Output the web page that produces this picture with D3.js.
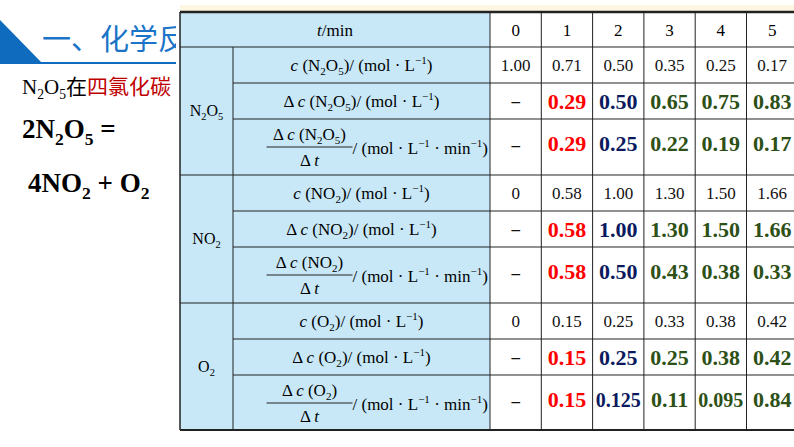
<!DOCTYPE html><html><head><meta charset="utf-8"><script src="https://d3js.org/d3.v7.min.js"></script>
<style>body{margin:0;background:#fff}svg{display:block}</style></head><body><svg id="c" width="794" height="447"></svg>
<script>
const times=["0","1","2","3","4","5"];
const groups=["N2O5","NO2","O2"];
const cN2O5=["1.00","0.71","0.50","0.35","0.25","0.17"];
const dN2O5=["–","0.29","0.50","0.65","0.75","0.83"];
const vN2O5=["–","0.29","0.25","0.22","0.19","0.17"];
const cNO2=["0","0.58","1.00","1.30","1.50","1.66"];
const dNO2=["–","0.58","1.00","1.30","1.50","1.66"];
const vNO2=["–","0.58","0.50","0.43","0.38","0.33"];
const cO2=["0","0.15","0.25","0.33","0.38","0.42"];
const dO2=["–","0.15","0.25","0.25","0.38","0.42"];
const vO2=["–","0.15","0.125","0.11","0.095","0.84"];
const rows=[[cN2O5,"c"],[dN2O5,"d"],[vN2O5,"v"],[cNO2,"c"],[dNO2,"d"],[vNO2,"v"],[cO2,"c"],[dO2,"d"],[vO2,"v"]];
const svg=d3.select("#c");
const serif="'Liberation Serif','DejaVu Serif',serif";
function rich(t,segs,fs){let cur=0;segs.forEach(s=>{const lv=s[1]||0;const off=lv==1?fs*0.25:lv==-1?-fs*0.4:0;
 const sp=t.append("tspan").attr("dy",off-cur).text(s[0]);cur=off;if(lv)sp.attr("font-size",fs*0.65);
 if(s[2])Object.entries(s[2]).forEach(([k,v])=>sp.attr(k,v));});return t;}
svg.append("path").attr("d","M0,20 L0,63 L42,63 Z").attr("fill","#0e6bbd");
svg.append("rect").attr("x",0).attr("y",62).attr("width",200).attr("height",2).attr("fill","#0e6bbd");
svg.append("text").attr("x",42).attr("y",50).attr("font-family","Noto Sans CJK SC").attr("font-size",29).attr("fill","#1a74c8").text("一、化学反应");
const cjk={"font-family":"Noto Sans CJK SC"};
rich(svg.append("text").attr("x",22).attr("y",94).attr("font-family",serif).attr("font-size",21),
 [["N"],["2",1],["O"],["5",1],["在",0,cjk],["四氯化碳",0,{"font-family":"Noto Sans CJK SC",fill:"#c00000"}]],21);
rich(svg.append("text").attr("x",22).attr("y",138).attr("font-family",serif).attr("font-weight","bold").attr("font-size",27),[["2N"],["2",1],["O"],["5",1],[" ="]],27);
rich(svg.append("text").attr("x",28).attr("y",192).attr("font-family",serif).attr("font-weight","bold").attr("font-size",27),[["4NO"],["2",1],[" + O"],["2",1]],27);
const x0=180,xg=233,xl=490,colW=51.3;
const x=d3.scaleBand().domain(times).range([xl,xl+6*colW]);
const rowH=[36,36,56,36,36,56,36,36,55];
const ys=[47];rowH.forEach(h=>ys.push(ys[ys.length-1]+h));
const yTop=12;
svg.append("rect").attr("x",x0-4).attr("y",5).attr("width",640).attr("height",440).attr("fill","#fff");
svg.append("rect").attr("x",x0).attr("y",5).attr("width",614).attr("height",6).attr("fill","#fdf6e0");
svg.append("rect").attr("x",x0).attr("y",yTop).attr("width",xl-x0).attr("height",ys[9]-yTop).attr("fill","#c8e8f8");
const L=(a,b,c,d,w)=>svg.append("line").attr("x1",a).attr("y1",b).attr("x2",c).attr("y2",d).attr("stroke","#222").attr("stroke-width",w||1);
L(x0,yTop,800,yTop,2.5);L(x0,ys[9],800,ys[9],2);L(x0,yTop,x0,ys[9],1.5);
ys.slice(0,9).forEach((y,i)=>L(i%3==0?x0:xg,y,800,y,1.2));
L(xg,ys[0],xg,ys[9]);times.forEach(t=>L(x(t),yTop,x(t),ys[9]));
const it={"font-style":"italic"};
rich(svg.append("text").attr("x",(x0+xl)/2).attr("y",36).attr("text-anchor","middle").attr("font-family",serif).attr("font-size",17),[["t",0,it],["/min"]],17);
times.forEach(t=>svg.append("text").attr("x",x(t)+colW/2).attr("y",36).attr("text-anchor","middle").attr("font-family",serif).attr("font-size",17).text(t));
const subs={N2O5:[["N"],["2",1],["O"],["5",1]],NO2:[["NO"],["2",1]],O2:[["O"],["2",1]]};
groups.forEach((g,gi)=>{
 const yc=(ys[gi*3]+ys[gi*3+3])/2+5;
 rich(svg.append("text").attr("x",(x0+xg)/2).attr("y",yc).attr("text-anchor","middle").attr("font-family",serif).attr("font-size",16),subs[g],16);
 const lx=(xg+xl)/2,fs=17;
 for(let k=0;k<3;k++){
  const y0=ys[gi*3+k],y1=ys[gi*3+k+1];
  const T=(xx,yy,anc)=>svg.append("text").attr("x",xx).attr("y",yy).attr("text-anchor",anc||"middle").attr("font-family",serif).attr("font-size",fs);
  if(k<2){rich(T(lx,(y0+y1)/2+6),[...(k==1?[["Δ "]]:[]),["c",0,it],[" ("],...subs[g],[")/ (mol · L"],["−1",-1],[")"]],fs);}
  else{const fx=lx-52;
   rich(T(fx,y0+21),[["Δ "],["c",0,it],[" ("],...subs[g],[")"]],fs);
   L(fx-43,y0+28,fx+43,y0+28,1);
   rich(T(fx,y0+47),[["Δ "],["t",0,it]],fs);
   rich(T(fx+43,y0+35,"start"),[["/ (mol · L"],["−1",-1],[" · min"],["−1",-1],[")"]],fs);}
 }
});
const colr=i=>i==1?"#ff0000":i==2?"#0b1a5e":"#2d5016";
rows.forEach(([vals,kind],ri)=>{
 const y0=ys[ri],y1=ys[ri+1];
 vals.forEach((v,i)=>{
  const big=kind!=="c"&&i>0;
  svg.append("text").attr("x",x(times[i])+colW/2).attr("y",kind==="v"?y0+32:(y0+y1)/2+(big?8:6)).attr("text-anchor","middle")
   .attr("font-family",serif).attr("font-size",big?(v.length>4?20:22):17).attr("font-weight",big||v==="–"?"bold":"normal").attr("fill",big?colr(i):"#111").text(v);
 });
});
</script></body></html>
